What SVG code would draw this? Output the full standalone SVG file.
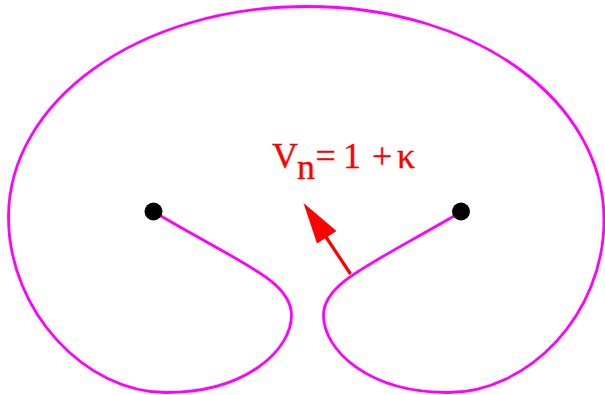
<svg xmlns="http://www.w3.org/2000/svg" width="605" height="395" viewBox="0 0 605 395">
<style>
.curve{fill:none;stroke:#ff00ff;stroke-width:2.8;stroke-linejoin:round;stroke-linecap:round}
.dot{fill:#000}
.lbl{fill:#ff0000;stroke:#ff0000;stroke-width:0.3;font-family:"Liberation Serif","Times New Roman",serif;font-size:36px}
.arr{stroke:#ff0000;stroke-width:3.2;fill:none}
</style>
<rect width="605" height="395" fill="#fff"/>
<g id="connectors">
<path id="front" class="curve" d="M154,212 C244,265 291,281 291.5,315 C291.5,350 246,392.5 166,392.5 C86,392.5 8.5,312 8.5,217 C8.5,102 137,6.5 307,6.5 C477,6.5 604,102 604,220 C604,315 528,392.5 448,392.5 C368,392.5 323.5,350 323.5,315 C323.5,283 370,265 461,212"/>
<line class="arr" x1="350.5" y1="274" x2="324" y2="234"/>
<polygon points="303.5,203 317,243.5 336.5,231" fill="#ff0000"/>
</g>
<g id="p1"><circle class="dot" cx="153.5" cy="211.5" r="9"/></g>
<g id="p2"><circle class="dot" cx="461" cy="211.5" r="9"/></g>
<g id="label">
<text class="lbl"><tspan x="272" y="167.5">V</tspan><tspan x="297" y="179">n</tspan><tspan x="315.5" y="167.5">=</tspan><tspan x="343" y="167.5">1</tspan><tspan x="372" y="167.5">+</tspan><tspan x="397" y="167.5">κ</tspan></text>
</g>
</svg>
